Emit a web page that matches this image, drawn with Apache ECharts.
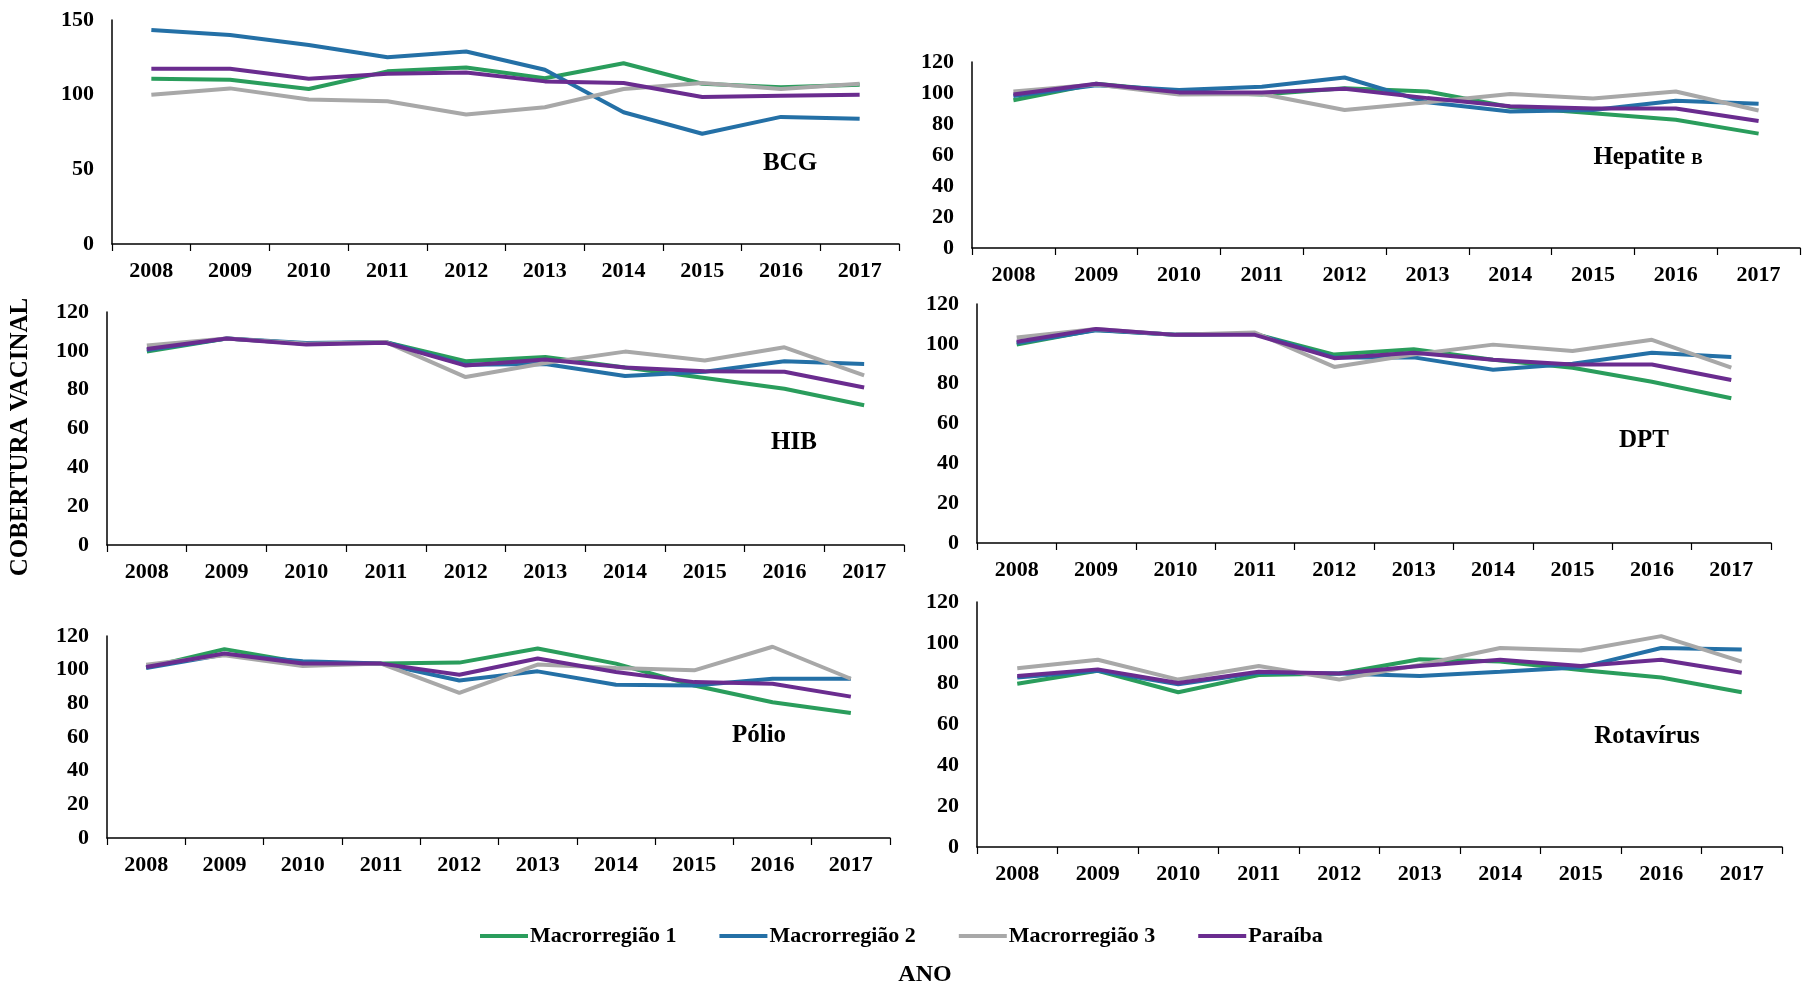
<!DOCTYPE html>
<html>
<head>
<meta charset="utf-8">
<script src="https://cdn.jsdelivr.net/npm/echarts@6/dist/echarts.min.js"></script>
<style>
  html, body { margin: 0; padding: 0; background: #fff; }
  #chart { width: 1805px; height: 990px; }
</style>
</head>
<body>
<div id="chart"></div>
<script>
// Years on every x axis
const years = ['2008', '2009', '2010', '2011', '2012', '2013', '2014', '2015', '2016', '2017'];
const seriesNames = ['Macrorregião 1', 'Macrorregião 2', 'Macrorregião 3', 'Paraíba'];

// BCG
const bcgM1 = [110.7, 110, 103.8, 115.6, 118.2, 111, 121, 107.3, 105, 106.7];
const bcgM2 = [143.3, 140, 133.3, 125, 128.9, 116.7, 88.2, 73.8, 85.1, 83.8];
const bcgM3 = [100, 104.2, 96.7, 95.6, 86.7, 91.6, 103.8, 107.8, 103.8, 107.3];
const bcgPB = [117.3, 117.3, 110.7, 114, 114.9, 108.9, 107.8, 98.4, 99.3, 100];

// Hepatite B
const hepM1 = [95.3, 106, 101, 99, 103, 101, 91, 87, 82.7, 73.8];
const hepM2 = [98, 105, 102, 104, 110, 94, 88, 89, 95, 93];
const hepM3 = [101, 105.5, 99, 99.3, 89, 94, 99.3, 96.4, 101, 88.7];
const hepPB = [99, 106, 100.4, 100.4, 102.7, 96.7, 91.5, 90, 90, 82];

// HIB
const hibM1 = [99.6, 106.3, 103.6, 104.5, 94.6, 96.8, 91.4, 86, 80.5, 72];
const hibM2 = [100.4, 106.3, 104, 104.5, 92.8, 93.2, 87, 89.2, 94.6, 93.2];
const hibM3 = [102.7, 106.3, 103.6, 104.5, 86.5, 93.7, 99.6, 95, 101.8, 87.4];
const hibPB = [101, 106.3, 103.2, 104.1, 92.4, 95.5, 91.4, 89.5, 89.2, 81.1];

// DPT
const dptM1 = [99.6, 107, 104.5, 105, 94.6, 97.3, 92, 88, 81, 72.7];
const dptM2 = [100.4, 106.8, 104.5, 105, 93.2, 93.2, 87, 90, 95.5, 93.4];
const dptM3 = [103.2, 107.5, 104.5, 105.7, 88.4, 94.6, 99.6, 96.4, 102, 88];
const dptPB = [101, 107.5, 104.5, 104.5, 92.8, 95.5, 92, 89.6, 89.6, 81.8];

// Pólio
const polM1 = [101.2, 112.2, 104.2, 103.6, 104.2, 112.6, 103.6, 90.6, 80.6, 74.2];
const polM2 = [101, 109, 105, 103.6, 93.6, 99, 91, 90.6, 94.6, 94.6];
const polM3 = [103, 108.6, 102.2, 103.6, 86.2, 103, 101, 99.6, 113.6, 94.6];
const polPB = [101.6, 109.6, 103.6, 103.6, 97, 106.6, 98.6, 92.6, 91.6, 84];

// Rotavírus
const rotM1 = [80, 86.3, 75.8, 84.2, 85, 92, 90.8, 86.7, 83, 75.8];
const rotM2 = [83, 86.3, 79.7, 85.3, 85, 83.7, 85.8, 88, 97.5, 96.7];
const rotM3 = [87.5, 91.7, 82, 88.7, 82, 89.2, 97.5, 96.2, 103.3, 90.8];
const rotPB = [83.7, 87, 80.3, 85.8, 85, 88.7, 91.7, 88.7, 91.7, 85.3];

const colors = ['#2a9d5c', '#2470a6', '#a8a8a8', '#6a2c8f'];
const FONT = '"Liberation Serif", "Times New Roman", serif';

// One panel per vaccine: grid box, y scale and the label drawn inside
const panels = [
  { name: 'BCG', data: [bcgM1, bcgM2, bcgM3, bcgPB], grid: { left: 112, top: 20, width: 787, height: 224 }, max: 150, interval: 50, label: [790, 164] },
  { name: 'Hepatite', sub: 'B', data: [hepM1, hepM2, hepM3, hepPB], grid: { left: 972, top: 62, width: 828, height: 186 }, max: 120, interval: 20, label: [1648, 158] },
  { name: 'HIB', data: [hibM1, hibM2, hibM3, hibPB], grid: { left: 107, top: 312, width: 797, height: 233 }, max: 120, interval: 20, label: [794, 443] },
  { name: 'DPT', data: [dptM1, dptM2, dptM3, dptPB], grid: { left: 977, top: 304, width: 794, height: 239 }, max: 120, interval: 20, label: [1644, 441] },
  { name: 'Pólio', data: [polM1, polM2, polM3, polPB], grid: { left: 107, top: 636, width: 783, height: 202 }, max: 120, interval: 20, label: [759, 736] },
  { name: 'Rotavírus', data: [rotM1, rotM2, rotM3, rotPB], grid: { left: 977, top: 602, width: 805, height: 245 }, max: 120, interval: 20, label: [1647, 737] }
];

const grids = [], xAxes = [], yAxes = [], series = [], graphics = [];

panels.forEach((p, i) => {
  grids.push(Object.assign({ containLabel: false }, p.grid));
  xAxes.push({
    type: 'category', gridIndex: i, data: years, boundaryGap: true,
    axisLine: { lineStyle: { color: '#000', width: 1.5 } },
    axisTick: { show: true, inside: false, length: 7, lineStyle: { color: '#000', width: 1.2 } },
    axisLabel: { color: '#000', fontFamily: FONT, fontWeight: 'bold', fontSize: 22, margin: 16 }
  });
  yAxes.push({
    type: 'value', gridIndex: i, min: 0, max: p.max, interval: p.interval,
    splitLine: { show: false },
    axisLine: { show: true, lineStyle: { color: '#000', width: 1.5 } },
    axisTick: { show: false },
    axisLabel: { color: '#000', fontFamily: FONT, fontWeight: 'bold', fontSize: 22, margin: 18 }
  });
  p.data.forEach((vals, k) => {
    series.push({
      name: seriesNames[k], type: 'line', xAxisIndex: i, yAxisIndex: i,
      data: vals, symbol: 'none', smooth: false,
      lineStyle: { color: colors[k], width: 4 },
      itemStyle: { color: colors[k] },
      z: 2 + k
    });
  });
  graphics.push({
    type: 'text', x: p.label[0], y: p.label[1],
    style: {
      text: p.sub ? '{a|' + p.name + ' }{b|' + p.sub + '}' : '{a|' + p.name + '}',
      rich: {
        a: { fontFamily: FONT, fontWeight: 'bold', fontSize: 25, fill: '#000', lineHeight: 28 },
        b: { fontFamily: FONT, fontWeight: 'bold', fontSize: 17, fill: '#000', lineHeight: 28, verticalAlign: 'middle', padding: [4, 0, 0, 0] }
      },
      align: 'center', verticalAlign: 'middle'
    }
  });
});

// Axis titles
graphics.push({
  type: 'text', x: 21, y: 437, rotation: Math.PI / 2,
  style: { text: 'COBERTURA VACINAL', fontFamily: FONT, fontWeight: 'bold', fontSize: 25, fill: '#000', align: 'center', verticalAlign: 'middle' }
});
graphics.push({
  type: 'text', x: 925, y: 975,
  style: { text: 'ANO', fontFamily: FONT, fontWeight: 'bold', fontSize: 24, fill: '#000', align: 'center', verticalAlign: 'middle' }
});

const chart = echarts.init(document.getElementById('chart'), null, { renderer: 'canvas' });
chart.setOption({
  animation: false,
  backgroundColor: '#fff',
  grid: grids,
  xAxis: xAxes,
  yAxis: yAxes,
  series: series,
  legend: {
    data: seriesNames,
    left: 475, top: 920,
    icon: 'rect',
    itemWidth: 48, itemHeight: 4, itemGap: 43,
    textStyle: { color: '#000', fontFamily: FONT, fontWeight: 'bold', fontSize: 22, padding: [0, 0, 0, -3] }
  },
  graphic: graphics
});
</script>
</body>
</html>
